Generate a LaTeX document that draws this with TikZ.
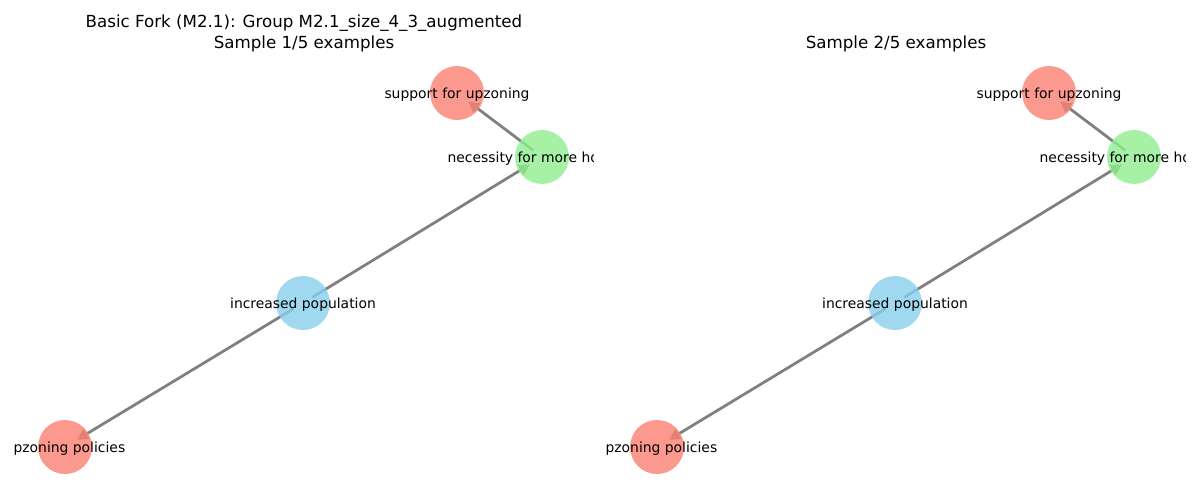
\documentclass[tikz,border=0pt]{standalone}
\usepackage{fontspec}
\setmainfont{DejaVu Sans}
\usetikzlibrary{arrows.meta}
\definecolor{nsalmon}{HTML}{FA8072}
\definecolor{ngreen}{HTML}{90EE90}
\definecolor{nblue}{HTML}{87CEEB}
\definecolor{egray}{RGB}{128,128,128}
\begin{document}
\begin{tikzpicture}[x=0.75pt,y=-0.75pt,
  vertex/.style={circle,minimum size=40.5pt,inner sep=0pt,draw=none,fill opacity=0.8},
  edge/.style={draw=egray,line width=2.08pt,-{Triangle[length=8.25pt,width=8.25pt]},shorten <=8.25pt,shorten >=10.5pt},
  lbl/.style={font=\fontsize{10.42pt}{12.5pt}\selectfont,inner sep=0pt,text=black,yshift=-1.5pt},
  ttl/.style={font=\fontsize{12.5pt}{15.75pt}\selectfont,align=center,inner sep=0pt,text=black}]
\useasboundingbox (0,0) rectangle (1200,500);
\node[ttl] (titleL) at (304,33) {Basic Fork (M2.1): Group M2.1\_size\_4\_3\_augmented\\Sample 1/5 examples};
\node[ttl] (titleR) at (896,43.5) {Sample 2/5 examples};
\foreach \p/\dx/\cl/\cr in {L/0/13/593,R/592/605/1185}{
  \begin{scope}[xshift=\dx*0.75pt]
    \coordinate (sup\p) at (457,93);
    \coordinate (nec\p) at (542,157);
    \coordinate (inc\p) at (303,303);
    \coordinate (pol\p) at (65,447);
    \draw[edge] (inc\p) -- (nec\p);
    \draw[edge] (nec\p) -- (sup\p);
    \draw[edge] (inc\p) -- (pol\p);
    \node[vertex,fill=nsalmon] (supN\p) at (sup\p) {};
    \node[vertex,fill=ngreen] (necN\p) at (nec\p) {};
    \node[vertex,fill=nblue] (incN\p) at (inc\p) {};
    \node[vertex,fill=nsalmon] (polN\p) at (pol\p) {};
  \end{scope}
  \begin{scope}
    \clip (\cl,0) rectangle (\cr,500);
    \begin{scope}[xshift=\dx*0.75pt]
      \node[lbl] (supT\p) at (sup\p) {support for upzoning};
      \node[lbl] (necT\p) at (nec\p) {necessity for more housing};
      \node[lbl] (incT\p) at (inc\p) {increased population};
      \node[lbl] (polT\p) at (pol\p) {upzoning policies};
    \end{scope}
  \end{scope}
}
\end{tikzpicture}
\end{document}
